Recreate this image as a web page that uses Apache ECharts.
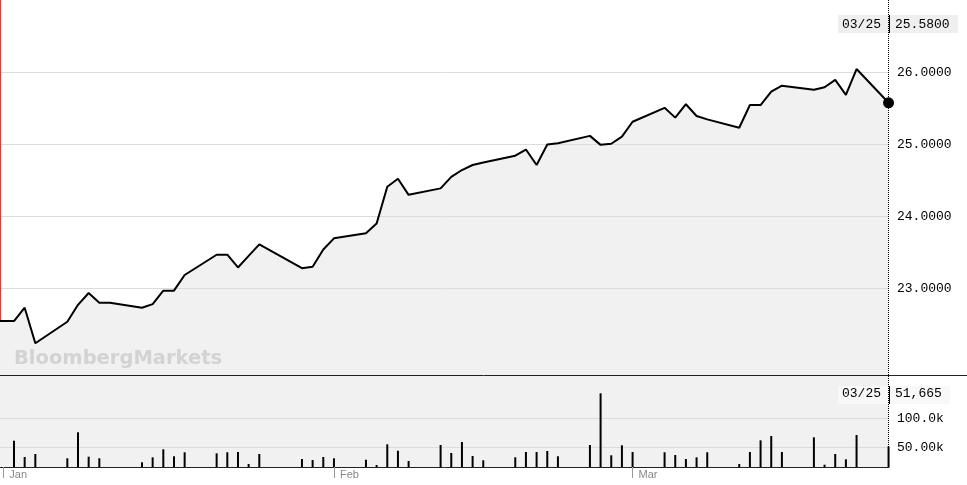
<!DOCTYPE html>
<html><head><meta charset="utf-8">
<script src="https://cdn.jsdelivr.net/npm/echarts@6/dist/echarts.min.js"></script>
<style>html,body{margin:0;padding:0;background:#fff}#c{width:967px;height:485px}</style>
</head><body><div id="c"></div>
<script>
const dates = ['2018-12-31',
 '2019-01-02','2019-01-03','2019-01-04','2019-01-07','2019-01-08','2019-01-09','2019-01-10','2019-01-11',
 '2019-01-14','2019-01-15','2019-01-16','2019-01-17','2019-01-18','2019-01-21','2019-01-22','2019-01-23',
 '2019-01-24','2019-01-25','2019-01-29','2019-01-30','2019-01-31',
 '2019-02-01','2019-02-04','2019-02-05','2019-02-06','2019-02-07','2019-02-08','2019-02-11','2019-02-12',
 '2019-02-13','2019-02-14','2019-02-15','2019-02-18','2019-02-19','2019-02-20','2019-02-21','2019-02-22',
 '2019-02-25','2019-02-26','2019-02-27','2019-02-28',
 '2019-03-01','2019-03-04','2019-03-05','2019-03-06','2019-03-07','2019-03-08','2019-03-11','2019-03-12',
 '2019-03-13','2019-03-14','2019-03-15','2019-03-18','2019-03-19','2019-03-20','2019-03-21','2019-03-22',
 '2019-03-25'];
const prices = [22.545,
 22.545,22.73,22.235,22.535,22.77,22.935,22.80,22.80,
 22.73,22.78,22.967,22.967,23.185,23.467,23.467,23.29,
 23.45,23.61,23.28,23.30,23.54,
 23.695,23.765,23.90,24.413,24.524,24.30,24.39,24.55,
 24.645,24.715,24.75,24.845,24.93,24.715,25.00,25.017,
 25.12,24.995,25.01,25.11,
 25.317,25.51,25.374,25.56,25.396,25.35,25.233,25.549,
 25.549,25.734,25.818,25.763,25.797,25.898,25.69,26.05,
 25.58];
const volumes = [null,
 61500,33000,38300,30800,76200,33600,30800,null,
 23800,32500,46500,34300,41300,39500,41300,41800,
 20800,38300,29500,27800,33000,
 30800,28300,19000,55200,44000,26000,54000,40000,
 59300,34800,27300,32500,41800,41800,43500,34300,
 54000,144400,36000,53500,
 41800,41300,36500,29500,32500,41300,20800,41800,
 62200,69700,41800,67500,19600,38300,29000,71500,
 51665];
const priceTicks = [23, 24, 25, 26];
const volumeTicks = [50000, 100000];
const monthTicks = ['2019-01-01', '2019-02-01', '2019-03-01'];
const monthLabels = ['Jan', 'Feb', 'Mar'];
const watermark = 'BloombergMarkets';

const t = s => { const [y, m, d] = s.split('-').map(Number); return new Date(y, m - 1, d).getTime(); };
const HOUR = 3600e3;
const X_MIN = t('2019-01-01') - 7.5 * HOUR;
const X_MAX = t(dates[dates.length - 1]) + 1 * HOUR;
const P_MIN = 21.794, P_MAX = 27.01;
const V_MIN = 15560, V_MAX = 174600;

const priceData = dates.map((d, i) => [t(d), prices[i]]);
const volData = dates.map((d, i) => [t(d), volumes[i]]).filter(p => p[1] != null);
const lastIdx = dates.length - 1;
const lastT = t(dates[lastIdx]);
const lastDateStr = dates[lastIdx].slice(5, 7) + '/' + dates[lastIdx].slice(8, 10);
const tickTimes = monthTicks.map(t);
const MONO = '"Liberation Mono", "DejaVu Sans Mono", monospace';
const fmtVol = v => v >= 100000 ? (v / 1000).toFixed(1) + 'k' : (v / 1000).toFixed(2) + 'k';
const fmtInt = v => String(v).replace(/\B(?=(\d{3})+(?!\d))/g, ',');

const chart = echarts.init(document.getElementById('c'), null, {renderer: 'canvas'});
chart.setOption({
  animation: false,
  backgroundColor: '#ffffff',
  grid: [
    {left: 0, top: 0, width: 889, height: 375, show: false},
    {left: 0, top: 376, width: 889, height: 91, show: true, backgroundColor: '#f1f1f1', borderWidth: 0}
  ],
  xAxis: [
    {type: 'value', gridIndex: 0, min: X_MIN, max: X_MAX, show: false, splitLine: {show: false}},
    {type: 'value', gridIndex: 1, min: X_MIN, max: X_MAX,
     axisLine: {show: true, lineStyle: {color: '#222', width: 1}},
     axisTick: {show: true, customValues: tickTimes, length: 11, lineStyle: {color: '#999', width: 1}},
     axisLabel: {show: true, customValues: tickTimes, formatter: v => monthLabels[tickTimes.indexOf(v)] || '',
       align: 'left', margin: 2, padding: [0, 0, 0, 6], color: '#888', fontSize: 11, fontFamily: '"Liberation Sans", Arial'},
     splitLine: {show: false}}
  ],
  yAxis: [
    {type: 'value', gridIndex: 0, min: P_MIN, max: P_MAX, show: false, splitLine: {show: false}},
    {type: 'value', gridIndex: 1, min: V_MIN, max: V_MAX, show: false, splitLine: {show: false}}
  ],
  graphic: [
    {type: 'text', left: 14, top: 349, z: 6, silent: true,
     style: {text: watermark, font: 'bold 19.5px "DejaVu Sans"', fill: '#d3d3d3'}},
    {type: 'line', z: 10, shape: {x1: 0, y1: 375.5, x2: 967, y2: 375.5}, style: {stroke: '#222', lineWidth: 1}},
    {type: 'group', z: 20, children: [
      {type: 'rect', shape: {x: 838, y: 15, width: 120, height: 18}, style: {fill: '#efefef'}},
      {type: 'line', shape: {x1: 889.5, y1: 15, x2: 889.5, y2: 33}, style: {stroke: '#000', lineWidth: 1}},
      {type: 'text', x: 842, y: 24.5, style: {text: lastDateStr, font: '13px ' + MONO, fill: '#000', verticalAlign: 'middle'}},
      {type: 'text', x: 895, y: 24.5, style: {text: prices[lastIdx].toFixed(4), font: '13px ' + MONO, fill: '#000', verticalAlign: 'middle'}}
    ]},
    {type: 'group', z: 20, children: [
      {type: 'rect', shape: {x: 838, y: 386, width: 112, height: 18}, style: {fill: '#f8f8f8'}},
      {type: 'line', shape: {x1: 889.5, y1: 386, x2: 889.5, y2: 404}, style: {stroke: '#000', lineWidth: 1}},
      {type: 'text', x: 842, y: 394, style: {text: lastDateStr, font: '13px ' + MONO, fill: '#000', verticalAlign: 'middle'}},
      {type: 'text', x: 895, y: 394, style: {text: fmtInt(volumes[lastIdx]), font: '13px ' + MONO, fill: '#000', verticalAlign: 'middle'}}
    ]}
  ],
  series: [
    {name: 'area', type: 'line', xAxisIndex: 0, yAxisIndex: 0, data: priceData, z: 1, silent: true,
     symbol: 'none', lineStyle: {width: 0}, areaStyle: {color: '#f1f1f1', opacity: 1}},
    {name: 'pgrid', type: 'line', xAxisIndex: 0, yAxisIndex: 0, data: priceData, z: 2, silent: true,
     symbol: 'none', lineStyle: {opacity: 0},
     markLine: {silent: true, symbol: 'none', animation: false, z: 2,
       data: [
         ...priceTicks.map(v => ({yAxis: v, lineStyle: {color: '#dcdcdc', width: 1, type: 'solid'},
           label: {show: true, position: 'end', distance: 8, formatter: p => Number(p.value).toFixed(4),
             color: '#000', fontSize: 13, fontFamily: MONO}})),
         [{coord: [X_MIN, prices[0]], lineStyle: {color: '#ff3030', width: 2, type: 'solid'}, label: {show: false}},
          {coord: [X_MIN, P_MAX]}]
       ]}},
    {name: 'price', type: 'line', xAxisIndex: 0, yAxisIndex: 0, data: priceData, z: 3,
     symbol: 'none', lineStyle: {color: '#000', width: 2}, silent: true,
     markLine: {silent: true, symbol: 'none', animation: false, z: 4,
       data: [{xAxis: lastT, lineStyle: {color: '#000', width: 1, type: [1, 1]}, label: {show: false}}]},
     markPoint: {silent: true, animation: false, symbol: 'circle', symbolSize: 11, itemStyle: {color: '#000'},
       label: {show: false}, data: [{coord: [lastT, prices[lastIdx]]}]}},
    {name: 'vgrid', type: 'line', xAxisIndex: 1, yAxisIndex: 1, data: volData, z: 2, silent: true,
     symbol: 'none', lineStyle: {opacity: 0},
     markLine: {silent: true, symbol: 'none', animation: false, z: 2,
       data: volumeTicks.map(v => ({yAxis: v, lineStyle: {color: '#dcdcdc', width: 1, type: 'solid'},
           label: {show: true, position: 'end', distance: 8, formatter: p => fmtVol(Number(p.value)),
             color: '#000', fontSize: 13, fontFamily: MONO}}))}},
    {name: 'volume', type: 'bar', xAxisIndex: 1, yAxisIndex: 1, data: volData, z: 3, silent: true,
     barWidth: 2, itemStyle: {color: '#000'},
     markLine: {silent: true, symbol: 'none', animation: false, z: 4,
       data: [{xAxis: lastT, lineStyle: {color: '#000', width: 1, type: [1, 1]}, label: {show: false}}]}}
  ]
});
</script>
</body></html>
